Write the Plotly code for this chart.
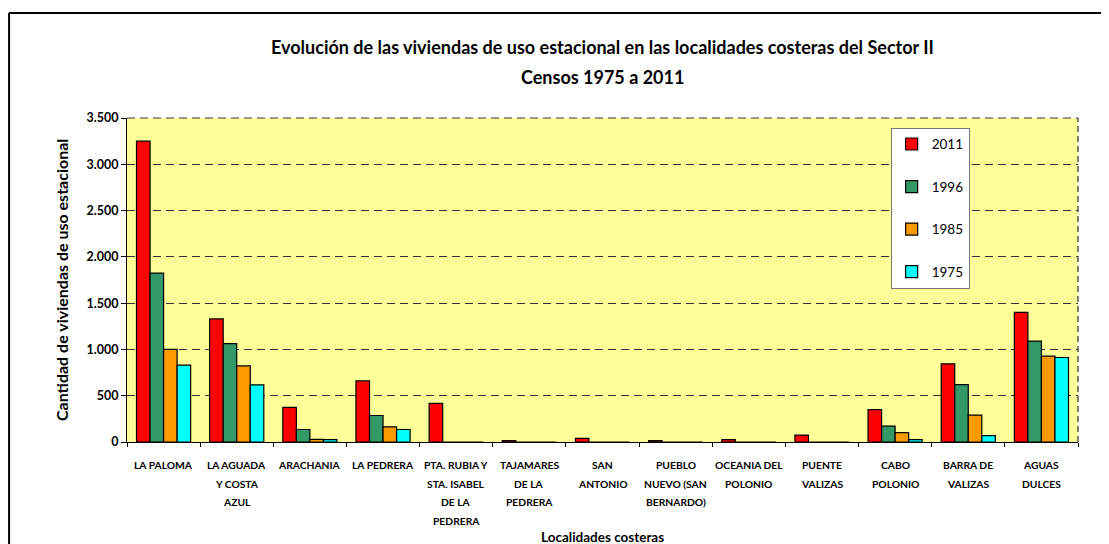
import plotly.graph_objects as go

categories = [
    "LA PALOMA", "LA AGUADA<br>Y COSTA<br>AZUL", "ARACHANIA", "LA PEDRERA",
    "PTA. RUBIA Y<br>STA. ISABEL<br>DE LA<br>PEDRERA", "TAJAMARES<br>DE LA<br>PEDRERA",
    "SAN<br>ANTONIO", "PUEBLO<br>NUEVO (SAN<br>BERNARDO)", "OCEANIA DEL<br>POLONIO",
    "PUENTE<br>VALIZAS", "CABO<br>POLONIO", "BARRA DE<br>VALIZAS", "AGUAS<br>DULCES",
]
v2011 = [3250, 1330, 375, 660, 418, 15, 40, 15, 25, 75, 350, 845, 1400]
v1996 = [1825, 1062, 135, 286, 0, 0, 0, 0, 0, 0, 172, 619, 1090]
v1985 = [1000, 822, 28, 164, 0, 0, 0, 0, 0, 0, 101, 291, 927]
v1975 = [830, 618, 25, 135, 0, 0, 0, 0, 0, 0, 26, 69, 913]
series_names = ["2011", "1996", "1985", "1975"]
series_values = [v2011, v1996, v1985, v1975]
series_colors = ["#FF0000", "#339966", "#FF9900", "#00FFFF"]
y_ticks = [0, 500, 1000, 1500, 2000, 2500, 3000, 3500]

FONT = "Lato, Open Sans, sans-serif"

fig = go.Figure()
for name, vals, col in zip(series_names, series_values, series_colors):
    fig.add_trace(go.Bar(
        x=categories, y=vals, name=name, legendgroup=name,
        marker=dict(color=col, line=dict(color="black", width=1.2)),
    ))

annotations = []
# category labels, one line each for looser line spacing
for cat in categories:
    for i, line in enumerate(cat.split("<br>")):
        annotations.append(dict(
            x=cat, xref="x", y=0, yref="paper", yanchor="middle", xanchor="center",
            yshift=-(23 + 18.6 * i), text=f"<b>{line}</b>", showarrow=False,
            font=dict(family=FONT, size=10.3, color="black", weight=900),
        ))
annotations += [
    dict(x=0.5, xref="paper", y=1.219, yref="paper", yanchor="middle",
         text="<b>Evolución de las viviendas de uso estacional en las localidades costeras del Sector II</b>",
         showarrow=False, font=dict(family=FONT, size=18, color="black")),
    dict(x=0.5, xref="paper", y=1.127, yref="paper", yanchor="middle",
         text="<b>Censos 1975 a 2011</b>",
         showarrow=False, font=dict(family=FONT, size=18, color="black")),
    dict(x=0.5, xref="paper", y=-0.293, yref="paper", yanchor="middle",
         text="<b>Localidades costeras</b>",
         showarrow=False, font=dict(family=FONT, size=13.5, color="black")),
    dict(x=-0.0694, xref="paper", y=0.5, yref="paper", xanchor="center", yanchor="middle",
         textangle=-90, text="<b>Cantidad de viviendas de uso estacional</b>",
         showarrow=False, font=dict(family=FONT, size=16, color="black")),
]

shapes = [
    # outer frame
    dict(type="line", xref="paper", yref="paper", x0=-0.124, x1=1.04, y0=1.324, y1=1.324,
         line=dict(color="black", width=2)),
    dict(type="line", xref="paper", yref="paper", x0=-0.124, x1=-0.124, y0=1.324, y1=-0.4,
         line=dict(color="black", width=2)),
    # dashed plot-area border (top and right)
    dict(type="line", xref="paper", yref="paper", x0=1, x1=1, y0=0, y1=1,
         line=dict(color="#555555", width=1.5, dash="6px,4px")),
    dict(type="line", xref="paper", yref="paper", x0=0, x1=1, y0=1, y1=1,
         line=dict(color="#333333", width=1, dash="8px,5px")),
]

fig.update_layout(
    width=1101, height=536,
    margin=dict(l=119, r=31, t=110, b=102),
    paper_bgcolor="white", plot_bgcolor="#FFFF99",
    barmode="group", bargap=0.26, bargroupgap=0,
    separators=",.",
    showlegend=True,
    legend=dict(
        x=0.803, y=0.97, xanchor="left", yanchor="top",
        bgcolor="white", bordercolor="#777777", borderwidth=1,
        font=dict(family=FONT, size=13.5, color="black"),
        traceorder="grouped", tracegroupgap=22,
    ),
    annotations=annotations,
    shapes=shapes,
    font=dict(family=FONT, color="black"),
)
fig.update_xaxes(
    type="category", tickson="boundaries", ticks="outside", ticklen=4,
    tickcolor="black", showticklabels=False, showline=True, linecolor="black",
    linewidth=1, showgrid=False,
)
fig.update_yaxes(
    range=[0, 3500], tickvals=y_ticks, tickformat=",d", ticks="outside", ticklen=5,
    tickcolor="black", showline=True, linecolor="black", linewidth=1,
    showgrid=True, gridcolor="#333333", gridwidth=1, griddash="8px,5px",
    zeroline=False,
    tickfont=dict(family=FONT, size=12.5, color="black", weight="bold"),
)

fig.write_html("out.html")
